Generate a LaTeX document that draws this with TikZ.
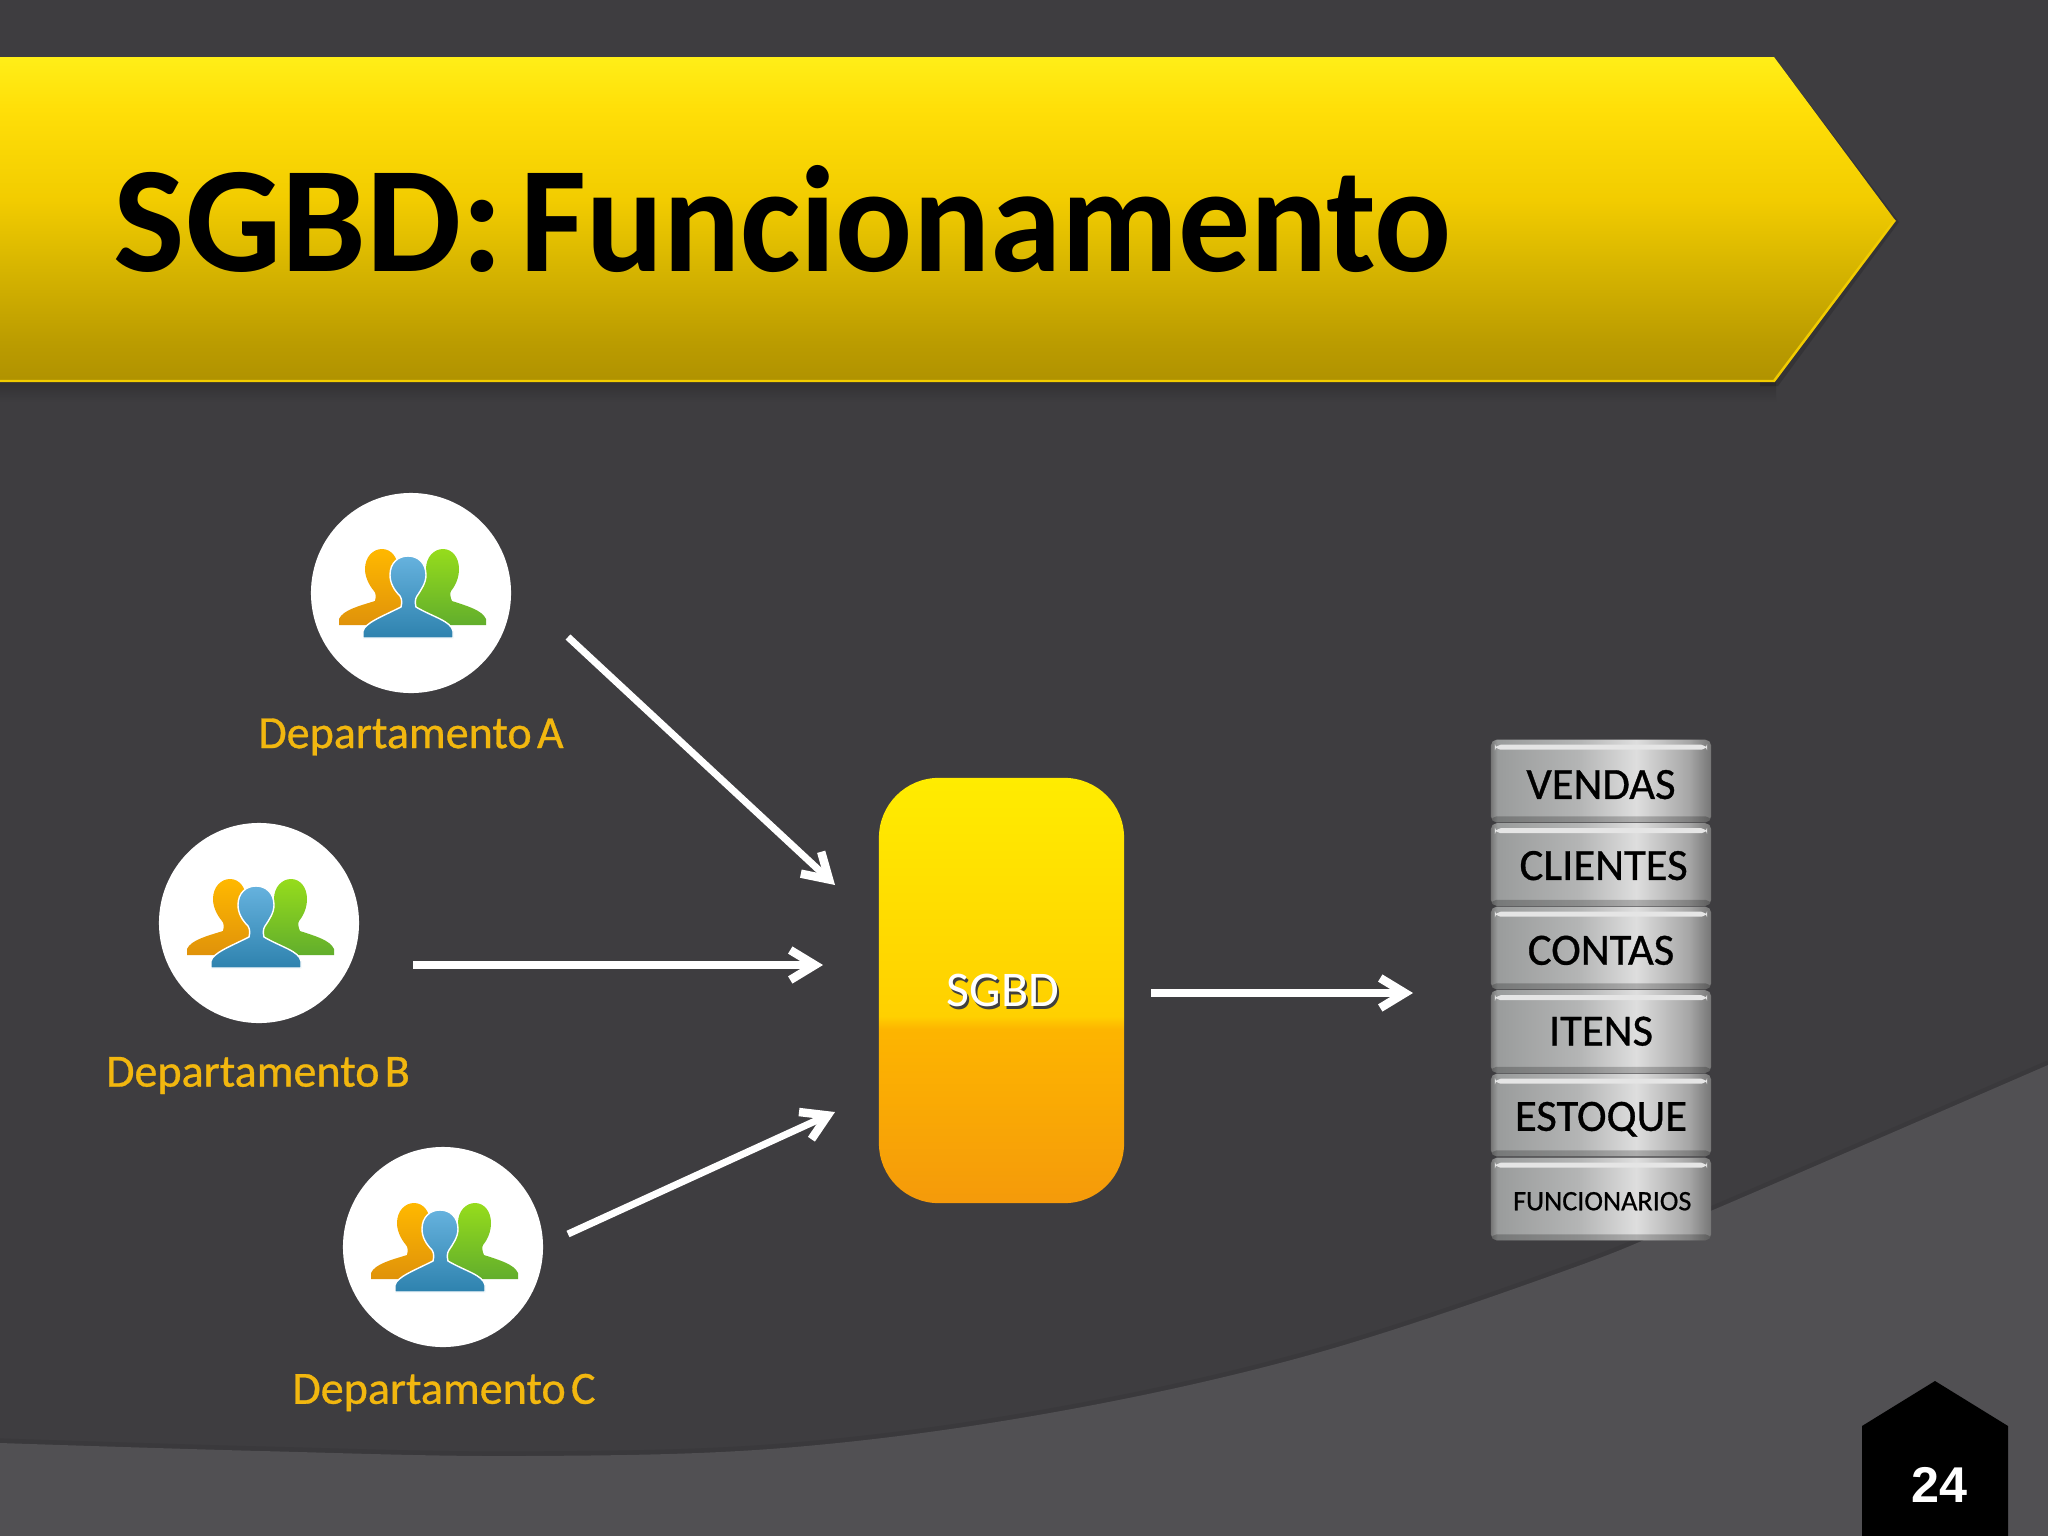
\documentclass[tikz,border=0pt]{standalone}
\usepackage{fontspec}
\setmainfont{Carlito}
\newfontfamily\numfont{Liberation Sans}
\newfontfamily\medfont[FakeBold=0.7]{Carlito}
\usetikzlibrary{arrows.meta}
\definecolor{bgdark}{HTML}{3E3D40}
\definecolor{bglight}{HTML}{515053}
\definecolor{lbl}{HTML}{F2B70F}
\definecolor{ba}{HTML}{B09200}\definecolor{baa}{HTML}{BB9C00}\definecolor{bb}{HTML}{D8B600}\definecolor{bc}{HTML}{F2CC00}\definecolor{bcc}{HTML}{FFDF08}\definecolor{bd}{HTML}{FFEE18}
\pgfdeclareverticalshading{bannershadeb}{100bp}{color(0bp)=(ba);color(25bp)=(ba);color(31bp)=(baa);color(43bp)=(bb);color(53bp)=(bc);color(67bp)=(bcc);color(75bp)=(bd);color(100bp)=(bd)}
\definecolor{sa}{HTML}{F59A0A}\definecolor{sb}{HTML}{FDB500}\definecolor{sc}{HTML}{FFD000}\definecolor{sd}{HTML}{FFEC00}
\pgfdeclareverticalshading{sgbdshade}{100bp}{color(0bp)=(sa);color(25bp)=(sa);color(45.5bp)=(sb);color(47bp)=(sc);color(75bp)=(sd);color(100bp)=(sd)}
\definecolor{da}{HTML}{9A9C9C}\definecolor{db}{HTML}{B4B5B5}\definecolor{dd}{HTML}{DEDEDE}\definecolor{de}{HTML}{A6A6A6}\definecolor{df}{HTML}{767676}
\pgfdeclarehorizontalshading{discshade}{100bp}{color(0bp)=(df);color(25bp)=(df);color(26.5bp)=(da);color(45bp)=(db);color(58bp)=(dd);color(70bp)=(de);color(75bp)=(df);color(100bp)=(df)}
\tikzset{
  x=0.01cm,y=-0.01cm,
  avatar/.style={circle,fill=white,minimum size=2cm,inner sep=0pt},
  dept/.style={text=lbl,font=\medfont\fontsize{13.1}{16}\selectfont,inner sep=0pt},
  flow/.style={draw=white,line width=2pt,-{Straight Barb[length=7pt,width=8.5pt,line width=2.4pt]}},
  disc/.style={rounded corners=1.6pt,shading=discshade,minimum width=2.2cm,minimum height=0.825cm,inner sep=0pt,
    text=black,font=\medfont\fontsize{12.7}{15}\selectfont,text height=8pt,text depth=0pt,
    path picture={
      \fill[white!90!black] ([xshift=0.04cm,yshift=-0.05cm]path picture bounding box.north west) rectangle ([xshift=-0.04cm,yshift=-0.10cm]path picture bounding box.north east);
      \fill[black,opacity=.22] ([yshift=0.06cm]path picture bounding box.south west) rectangle (path picture bounding box.south east);
    }},
  people/.pic={
    \path[top color=orangeT,bottom color=orangeB]
      (-72,32) -- (-72,26) .. controls (-68,17) and (-52,13) .. (-36,8) .. controls (-35,4) and (-35,0) .. (-37,-2)
      .. controls (-42,-8) and (-46,-16) .. (-46,-24) .. controls (-46,-36) and (-38,-44) .. (-29,-44)
      .. controls (-20,-44) and (-13,-36) .. (-13,-24) -- (-6,0) -- (-6,32) -- cycle;
    \path[top color=greenT,bottom color=greenB]
      (75,32) -- (75,26) .. controls (71,17) and (56,13) .. (41,8) .. controls (39,4) and (39,0) .. (40,-2)
      .. controls (45,-8) and (48,-16) .. (48,-24) .. controls (48,-36) and (41,-44) .. (32,-44)
      .. controls (23,-44) and (15,-36) .. (15,-24) -- (0,0) -- (0,32) -- cycle;
    \path[top color=blueT,bottom color=blueB,draw=white,line width=.4pt]
      (-48,45) -- (-48,38) .. controls (-46,30) and (-30,24) .. (-10,14) .. controls (-9,10) and (-9,6) .. (-11,3)
      .. controls (-17,-3) and (-21,-10) .. (-21,-18) .. controls (-21,-30) and (-13,-37) .. (-3,-37)
      .. controls (7,-37) and (15,-30) .. (15,-18) .. controls (15,-10) and (10,-3) .. (6,3)
      .. controls (4,6) and (4,10) .. (5,14) .. controls (22,24) and (40,28) .. (42,38) -- (42,45) -- cycle;
  }
}
\definecolor{orangeT}{HTML}{FFB800}\definecolor{orangeB}{HTML}{E0920A}
\definecolor{greenT}{HTML}{96DC1C}\definecolor{greenB}{HTML}{62AE2C}
\definecolor{blueT}{HTML}{66B2DE}\definecolor{blueB}{HTML}{2E82AE}
\definecolor{shadowtop}{HTML}{313032}
\begin{document}
\begin{tikzpicture}
\useasboundingbox (0,0) rectangle (2048,1536);
\clip (0,0) rectangle (2048,1536);
\fill[bgdark] (0,0) rectangle (2048,1536);
% lower swoosh
\draw[black,opacity=.06,line width=1.5pt] plot[smooth,tension=.6] coordinates {(0,1441) (261,1449) (522,1454) (783,1446) (1044,1412) (1306,1354) (1567,1268) (1713,1208) (2048,1063)};
\fill[bglight] plot[smooth,tension=.6] coordinates {(0,1443) (261,1451) (522,1456) (783,1448) (1044,1414) (1306,1356) (1567,1270) (1713,1210) (2048,1065)} -- (2048,1536) -- (0,1536) -- cycle;
% banner
\path[top color=shadowtop,bottom color=bgdark] (-5,380) rectangle (1776,402);
\fill[black,opacity=.15] (1774,57) -- (1899,222) -- (1778,386) -- (1760,386) -- cycle;
\path[shading=bannershadeb] (-5,57) -- (1774,57) -- (1895,220) -- (1774,381) -- (-5,381) -- cycle;
\draw[bc,line width=.7pt] (-5,381) -- (1774,381) -- (1895,220);
\node[anchor=base west,inner sep=0pt,font=\bfseries\fontsize{43}{50}\selectfont,text=black] (title) at (113,271) {SGBD:\hspace{4.8pt}\addfontfeature{FakeStretch=0.95}Funcionamento};
% departments
\node[avatar] (a) at (411,593) {};
\node[avatar] (b) at (259,923) {};
\node[avatar] (c) at (443,1247) {};
\path (a) pic {people};
\path (b) pic {people};
\path (c) pic {people};
\node[dept] (la) at (411,737) {Departamento\hspace{1.5pt}A};
\node[dept] (lb) at (258,1075.5) {Departamento\hspace{1.5pt}B};
\node[dept] (lc) at (444,1392.5) {Departamento\hspace{1.5pt}C};
% SGBD
\node[rounded corners=17pt,minimum width=2.45cm,minimum height=4.25cm,shading=sgbdshade,inner sep=0pt] (s) at (1001.5,990.5) {};
\node[text=black!75,font=\fontsize{14.2}{16}\selectfont,inner sep=0pt] (sshadow) at (1005,993) {SGBD};
\node[text=white,font=\fontsize{14.2}{16}\selectfont,inner sep=0pt] (stext) at (1003,990) {SGBD};
% table stack
\node[disc] (d1) at (1601,781) {\raisebox{-1.1pt}{VENDAS}};
\node[disc] (d2) at (1601,864.5) {\hspace*{1.5pt}\raisebox{-.4pt}{CLIENTES}};
\node[disc] (d3) at (1601,948) {\raisebox{-.75pt}{CONTAS}};
\node[disc] (d4) at (1601,1031.5) {ITENS};
\node[disc] (d5) at (1601,1115) {\raisebox{-.5pt}{ESTOQUE}};
\node[disc,font=\medfont\fontsize{8}{10}\selectfont,text height=5pt] (d6) at (1601,1199) {\hspace*{.7pt}\raisebox{-.7pt}{FUNCIONARIOS}};
% arrows
\coordinate (a1) at (568,637); \coordinate (a2) at (835,885);
\coordinate (b1) at (413,965); \coordinate (b2) at (823,965);
\coordinate (c1) at (568,1234); \coordinate (c2) at (835,1112);
\coordinate (o1) at (1151,993); \coordinate (o2) at (1413,993);
\draw[flow] (a1) -- (a2);
\draw[flow] (b1) -- (b2);
\draw[flow] (c1) -- (c2);
\draw[flow] (o1) -- (o2);
% page tag
\fill[black] (1862,1536) -- (1862,1426) -- (1935,1381) -- (2008,1426) -- (2008,1536) -- cycle;
\node[text=white,font=\numfont\bfseries\fontsize{14.3}{16}\selectfont,inner sep=0pt] (pg) at (1939,1485) {24};
\end{tikzpicture}
\end{document}
